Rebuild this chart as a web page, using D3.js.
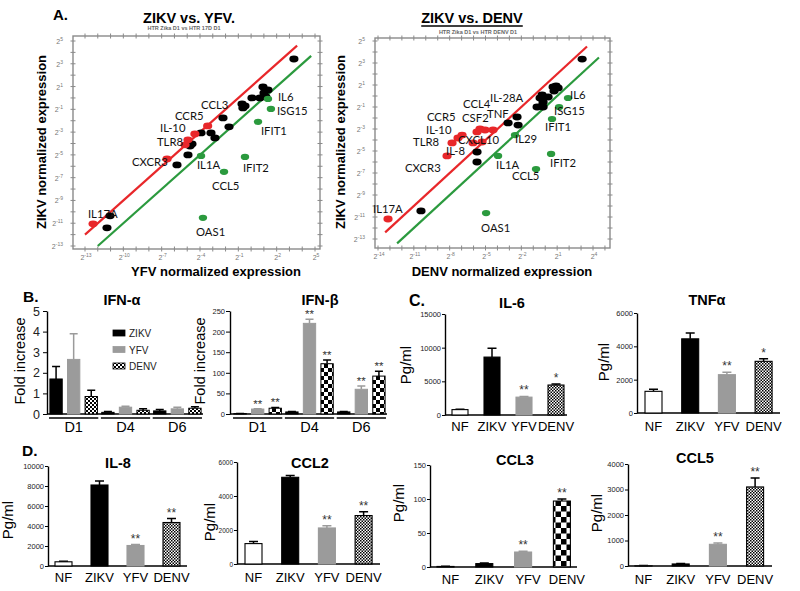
<!DOCTYPE html>
<html><head><meta charset="utf-8">
<script src="https://cdn.jsdelivr.net/npm/d3@7"></script>
<style>body{margin:0;background:#fff}svg{display:block}</style>
</head><body>
<svg id="c" width="800" height="591"></svg>
<script>
// ================= DATA =================
// Panel A: log2 normalized expression, [x = other virus, y = ZIKV]
const yfvBlack = [[3.35,3.42],[0.93,0.96],[1.32,0.70],[1.01,0.44],[0.69,0.0],[1.16,0.09],[0.07,0.0],[-0.71,-0.53],[-0.64,-0.88],[-0.48,-0.70],[-2.2,-1.75],[-1.73,-2.54],[-3.14,-3.07],[-2.83,-3.51],[-3.92,-3.07],[-4.63,-4.04],[-4.78,-4.22],[-4.94,-5.0],[-5.8,-5.88],[-11.04,-10.35],[-11.28,-11.4]];
const yfvRed = [[-3.4,-2.46],[-4.4,-3.16],[-4.94,-3.68],[-5.17,-4.12],[-6.58,-5.35],[-12.37,-11.05]];
const yfvGreen = [[1.32,-0.09],[1.55,-0.96],[0.54,-2.1],[-0.48,-5.18],[-2.12,-6.49],[-3.77,-10.53],[-3.92,-5.09]];
const yfvLabels = [["IL6",2.10,-0.25],["ISG15",2.02,-1.5],["IFIT1",0.77,-3.25],["CCL3",-3.92,-0.96],["CCR5",-5.96,-1.95],["IL-10",-7.13,-2.95],["TLR8",-7.37,-4.21],["CXCR3",-9.32,-5.96],["IL1A",-4.24,-6.23],["IFIT2",-0.64,-6.49],["CCL5",-3.06,-8.07],["OAS1",-4.31,-12.1],["IL17A",-12.77,-10.53]];

const denvBlack = [[3.09,3.36],[0.91,0.91],[0.66,0.82],[1.08,0.73],[0.74,0.45],[0.24,-0.09],[-0.26,0.09],[-0.43,-0.18],[-0.18,-0.55],[-0.26,-0.91],[-0.68,-1.0],[-0.18,-1.0],[-2.36,-1.91],[-3.11,-2.45],[-2.27,-2.64],[-5.71,-5.09],[-5.71,-6.0],[-10.4,-10.45]];
const denvRed = [[-5.46,-3.0],[-5.04,-3.09],[-4.37,-3.09],[-5.71,-3.27],[-6.96,-3.55],[-7.3,-3.82],[-6.04,-4.27],[-7.8,-4.27],[-5.29,-4.18],[-8.22,-5.45],[-13.16,-11.18]];
const denvGreen = [[1.91,-0.18],[1.16,-1.0],[0.57,-2.09],[-2.53,-3.55],[-3.95,-5.45],[0.49,-5.27],[-0.77,-6.64],[-4.95,-10.64]];
const denvLabels = [["IL6",2.08,-0.27],["ISG15",0.74,-1.73],["IFIT1",-0.01,-3.18],["IL-28A",-4.62,-0.55],["CCL4",-6.88,-1.09],["CSF2",-6.96,-2.36],["TNF",-4.87,-2.0],["CCR5",-9.9,-2.25],["IL-10",-9.98,-3.45],["TLR8",-11.07,-4.5],["CXCL10",-7.3,-4.36],["IL29",-2.53,-4.27],["IL-8",-8.3,-5.36],["CXCR3",-11.74,-6.91],["IL1A",-4.12,-6.64],["IFIT2",0.41,-6.45],["CCL5",-2.78,-7.64],["IL17A",-14.42,-10.64],["OAS1",-5.37,-12.36]];

// 2-fold lines: y = x + offset, drawn from x start to x end
const yfvFoldUp = [-13, 3.6], yfvFoldDown = [-12, 4.7];
const denvFoldUp = [-13.4, 3.5], denvFoldDown = [-12.4, 4.5];
const foldOffsets = [1, -1];

// Panel B: interferon fold increase [group][series]
const ifnGroups = ["D1","D4","D6"];
const ifnSeries = ["ZIKV","YFV","DENV"];
const ifnAlpha = [[1.7,2.65,0.85],[0.08,0.33,0.18],[0.15,0.25,0.28]];
const ifnAlphaErr = [[2.3,3.9,1.15],[0.12,0.38,0.25],[0.22,0.33,0.35]];
const ifnAlphaSig = [["","",""],["","",""],["","",""]];
const ifnBeta = [[1,12,14],[5,220,122],[5,60,92]];
const ifnBetaErr = [[1.5,13,16],[6,230,131],[6,68,104]];
const ifnBetaSig = [["","**","**"],["","**","**"],["","**","**"]];
const ifnAlphaTicks = [0,1,2,3,4,5];
const ifnBetaTicks = [0,50,100,150,200,250];

// Panels C & D: cytokines (pg/ml)
const cytoCats = ["NF","ZIKV","YFV","DENV"];
const il6 = [800,8600,2650,4450], il6Err = [850,9900,2750,4600], il6Sig = ["","","**","*"];
const tnfa = [1300,4450,2300,3100], tnfaErr = [1420,4800,2450,3250], tnfaSig = ["","","**","*"];
const il8 = [420,8100,2050,4350], il8Err = [480,8500,2150,4750], il8Sig = ["","","**","**"];
const ccl2 = [1200,5100,2120,2850], ccl2Err = [1330,5200,2250,3080], ccl2Sig = ["","","**","**"];
const ccl3 = [0.8,5,22,97], ccl3Err = [1.2,6,23,100], ccl3Sig = ["","","**","**"];
const ccl5 = [10,80,850,3100], ccl5Err = [15,95,900,3450], ccl5Sig = ["","","**","**"];
const il6Ticks = [0,5000,10000,15000];
const tnfaTicks = [0,2000,4000,6000];
const il8Ticks = [0,2000,4000,6000,8000,10000];
const ccl2Ticks = [0,2000,4000,6000];
const ccl3Ticks = [0,50,100,150];
const ccl5Ticks = [0,1000,2000,3000,4000];

// ================= DRAW =================
const AR = "Arial, 'Liberation Sans', sans-serif";
const svg = d3.select("#c");
const defs = svg.append("defs");
function checker(id, s){
  const p = defs.append("pattern").attr("id",id).attr("patternUnits","userSpaceOnUse").attr("width",2*s).attr("height",2*s);
  p.append("rect").attr("width",2*s).attr("height",2*s).attr("fill","#fff");
  p.append("rect").attr("width",s).attr("height",s).attr("fill","#000");
  p.append("rect").attr("x",s).attr("y",s).attr("width",s).attr("height",s).attr("fill","#000");
}
checker("ckFine",1.5); checker("ckSmall",2); checker("ckBig",4); checker("ckHuge",5.5);

function text(g, x, y, s, o){
  o = o||{};
  return g.append("text").attr("x",x).attr("y",y).text(s)
    .attr("font-family",o.ff||AR).attr("font-size",o.fs||14)
    .attr("font-weight",o.fw||"normal").attr("fill",o.fill||"#000")
    .attr("text-anchor",o.anchor||"start");
}

// ---------- Panel A scatter ----------
function scatter(o){
  const g = svg.append("g");
  const x = d3.scaleLinear().domain([o.xd[0],o.xd[1]]).range([o.xp[0],o.xp[1]]);
  const y = d3.scaleLinear().domain([-13,5]).range([o.yp[0],o.yp[1]]);
  const fx = o.frameX, fy = o.frameY;
  g.append("rect").attr("x",fx[0]).attr("y",fy[0]).attr("width",fx[1]-fx[0]).attr("height",fy[1]-fy[0])
    .attr("fill","none").attr("stroke","#8a8a8a").attr("stroke-width",1.4);
  const xt = d3.range(Math.ceil(x.invert(fx[0])), Math.floor(x.invert(fx[1]))+1);
  const yt = d3.range(Math.ceil(y.invert(fy[1])), Math.floor(y.invert(fy[0]))+1);
  [fy[0],fy[1]].forEach(yy=>{
    g.selectAll(null).data(xt).join("line").attr("x1",d=>x(d)).attr("x2",d=>x(d))
      .attr("y1",yy-2.5).attr("y2",yy+2.5).attr("stroke","#8a8a8a").attr("stroke-width",1);
  });
  [fx[0],fx[1]].forEach(xx=>{
    g.selectAll(null).data(yt).join("line").attr("y1",d=>y(d)).attr("y2",d=>y(d))
      .attr("x1",xx-2.5).attr("x2",xx+2.5).attr("stroke","#8a8a8a").attr("stroke-width",1);
  });
  const lab = (t, px, py, anchor) => {
    const tt = g.append("text").attr("x",px).attr("y",py).attr("font-family",AR).attr("font-size",7)
      .attr("fill","#777").attr("text-anchor",anchor);
    tt.append("tspan").text("2");
    tt.append("tspan").attr("dy",-3).attr("font-size",5).text(t);
  };
  o.xLabels.forEach(t=>lab(t, x(t)+1, fy[1]+11, "middle"));
  o.yLabels.forEach(t=>lab(t, fx[0]-10, y(t)+3, "end"));
  const line = d3.line().x(d=>x(d[0])).y(d=>y(d[1]));
  [[o.up,foldOffsets[0],"#e8272a"],[o.down,foldOffsets[1],"#2b9a3e"]].forEach(([r,off,c])=>{
    g.append("path").attr("d",line([[r[0],r[0]+off],[r[1],r[1]+off]]))
      .attr("stroke",c).attr("stroke-width",2.2).attr("fill","none");
  });
  const pts = (arr,c,rx,ry)=> g.selectAll(null).data(arr).join("ellipse")
    .attr("cx",d=>x(d[0])).attr("cy",d=>y(d[1])).attr("rx",rx).attr("ry",ry).attr("fill",c);
  pts(o.black,"#000",4.6,3.4);
  pts(o.red,"#e8272a",4.6,3.4);
  pts(o.green,"#2b9a3e",4.2,3.1);
  g.selectAll(null).data(o.labels).join("text")
    .attr("x",d=>x(d[1])).attr("y",d=>y(d[2])).text(d=>d[0])
    .attr("font-family","Lato, 'Open Sans', sans-serif").attr("font-size",11.3).attr("fill","#111");
  const t = text(g, o.titleX, 23, o.title, {fs:14.5, fw:"bold", anchor:"middle"});
  if (o.underline){
    const w = t.node().getComputedTextLength();
    g.append("line").attr("x1",o.titleX-w/2).attr("x2",o.titleX+w/2).attr("y1",26).attr("y2",26)
      .attr("stroke","#000").attr("stroke-width",1.3);
  }
  text(g, o.subX, o.subY, o.sub, {fs:5.5, fill:"#666", anchor:"middle", fw:"bold"});
  text(g, o.xlabX, 276, o.xlab, {fs:13, fw:"bold", anchor:"middle"});
  text(g, 0, 0, "ZIKV normalized  expression", {fs:13, fw:"bold", anchor:"middle"})
    .attr("transform",`translate(${o.ylabX},142) rotate(-90)`);
}

scatter({xd:[-13,5], xp:[85,315], yp:[246,41], frameX:[73,320], frameY:[36,249],
  xLabels:[-13,-10,-7,-4,-1,2,5], yLabels:[-13,-11,-9,-7,-5,-3,-1,1,3,5],
  up:yfvFoldUp, down:yfvFoldDown, black:yfvBlack, red:yfvRed, green:yfvGreen, labels:yfvLabels,
  title:"ZIKV vs. YFV.", titleX:189, sub:"HTR Zika D1 vs HTR 17D D1", subX:184, subY:30,
  xlab:"YFV normalized expression", xlabX:216, ylabX:46});
scatter({xd:[-14,4], xp:[378,593], yp:[239,41], frameX:[375,610], frameY:[38,248],
  xLabels:[-14,-11,-8,-5,-2,1,4], yLabels:[-13,-11,-9,-7,-5,-3,-1,1,3,5],
  up:denvFoldUp, down:denvFoldDown, black:denvBlack, red:denvRed, green:denvGreen, labels:denvLabels,
  title:"ZIKV vs. DENV", titleX:472, underline:true, sub:"HTR Zika D1 vs HTR DENV D1", subX:478, subY:34,
  xlab:"DENV normalized expression", xlabX:502, ylabX:345});
text(svg, 53, 20, "A.", {fs:15, fw:"bold"});

// ---------- Panel B: interferons ----------
const seriesFill = {ZIKV:"#000", YFV:"#9b9b9b", NF:"#fff"};
const fmt = d3.format("d");
function ifnPanel(o){
  const g = svg.append("g");
  const x0 = d3.scaleBand().domain(ifnGroups).range([o.x0, o.x1]).paddingInner(0.05).paddingOuter(0.02);
  const x1 = d3.scaleBand().domain(ifnSeries).range([0, x0.bandwidth()]).paddingInner(0.3).paddingOuter(0.05);
  const y = d3.scaleLinear().domain([0, o.max]).range([414, 311]);
  const ax = g.append("g").attr("transform",`translate(${o.ax},0)`)
    .call(d3.axisLeft(y).tickValues(o.ticks).tickFormat(fmt).tickSize(4).tickSizeOuter(0).tickPadding(o.tp));
  ax.select(".domain").attr("stroke-width",1.4);
  ax.selectAll("text").attr("font-family",AR).attr("font-size",o.tfs).attr("fill","#222");
  g.append("line").attr("x1",o.ax).attr("x2",o.x1).attr("y1",y(0)).attr("y2",y(0)).attr("stroke","#000").attr("stroke-width",1.4);
  const rows = [];
  ifnGroups.forEach((gr,i)=>ifnSeries.forEach((s,j)=>rows.push({gr,s,v:o.vals[i][j],e:o.err[i][j],sig:o.sig[i][j]})));
  const bx = d=>x0(d.gr)+x1(d.s), bw = x1.bandwidth();
  g.selectAll(null).data(rows).join("path")
    .attr("d",d=>`M${bx(d)+bw/2},${y(d.v)}V${y(d.e)}M${bx(d)+bw/2-4},${y(d.e)}H${bx(d)+bw/2+4}`)
    .attr("stroke",d=>d.s==="YFV"?"#9b9b9b":"#000").attr("stroke-width",1.5).attr("fill","none");
  g.selectAll(null).data(rows).join("rect")
    .attr("x",bx).attr("width",bw).attr("y",d=>y(d.v)).attr("height",d=>y(0)-y(d.v))
    .attr("fill",d=>d.s==="DENV"?`url(#${o.pat})`:seriesFill[d.s])
    .attr("stroke",d=>d.s==="YFV"?"#9b9b9b":"#000").attr("stroke-width",1);
  g.selectAll(null).data(rows.filter(d=>d.sig)).join("text")
    .attr("x",d=>bx(d)+bw/2).attr("y",d=>y(d.e)-1).text(d=>d.sig).attr("text-anchor","middle")
    .attr("font-family",AR).attr("font-size",11.5).attr("fill","#333");
  g.selectAll(null).data(ifnGroups).join("line")
    .attr("x1",d=>x0(d)).attr("x2",d=>x0(d)+x0.bandwidth()).attr("y1",418).attr("y2",418)
    .attr("stroke","#000").attr("stroke-width",1.4);
  g.selectAll(null).data(ifnGroups).join("text")
    .attr("x",d=>x0(d)+x0.bandwidth()/2).attr("y",432).text(d=>d).attr("text-anchor","middle")
    .attr("font-family",AR).attr("font-size",14.5);
  text(g, o.titleX, 305, o.title, {fs:14.5, fw:"bold", anchor:"middle"});
  text(g, 0, 0, "Fold increase", {fs:14.5, anchor:"middle"}).attr("transform",`translate(${o.ylabX},361) rotate(-90)`);
}
ifnPanel({x0:48, x1:203, ax:47, max:5, ticks:ifnAlphaTicks, tfs:12.5, tp:3, vals:ifnAlpha, err:ifnAlphaErr, sig:ifnAlphaSig,
  pat:"ckSmall", title:"IFN-α", titleX:122, ylabX:25});
ifnPanel({x0:232, x1:387, ax:230, max:250, ticks:ifnBetaTicks, tfs:7.5, tp:1, vals:ifnBeta, err:ifnBetaErr, sig:ifnBetaSig,
  pat:"ckBig", title:"IFN-β", titleX:320, ylabX:205});
text(svg, 23, 302, "B.", {fs:15.5, fw:"bold"});
const leg = svg.append("g");
ifnSeries.forEach((s,i)=>{
  leg.append("rect").attr("x",113).attr("y",330+i*16.5).attr("width",12).attr("height",6)
    .attr("fill",s==="DENV"?"url(#ckSmall)":seriesFill[s]).attr("stroke",s==="YFV"?"#9b9b9b":"#000").attr("stroke-width",0.8);
  text(leg, 129, 337+i*16.5, s, {fs:10, fill:"#222"});
});

// ---------- Panels C & D: cytokines ----------
function cytoPanel(o){
  const g = svg.append("g");
  const n = cytoCats.length, pi = 1 - o.bw/o.step, po = (o.first - o.ax)/o.step;
  const x = d3.scaleBand().domain(cytoCats).range([o.ax, o.ax + o.step*(n - pi + 2*po)]).paddingInner(pi).paddingOuter(po);
  const y = d3.scaleLinear().domain([0, o.ticks[o.ticks.length-1]]).range([o.yb, o.yt]);
  const ax = g.append("g").attr("transform",`translate(${o.ax},0)`)
    .call(d3.axisLeft(y).tickValues(o.ticks).tickFormat(fmt).tickSize(3).tickSizeOuter(0).tickPadding(1));
  ax.select(".domain").attr("stroke-width",1.4);
  ax.selectAll("text").attr("font-family",AR).attr("font-size",o.tfs||7.5).attr("fill","#222");
  g.append("line").attr("x1",o.ax).attr("x2",o.xEnd).attr("y1",y(0)).attr("y2",y(0)).attr("stroke","#000").attr("stroke-width",1.4);
  const rows = cytoCats.map((c,i)=>({c, v:o.vals[i], e:o.err[i], sig:o.sig[i]}));
  const cx = d=>x(d.c)+x.bandwidth()/2;
  g.selectAll(null).data(rows).join("path")
    .attr("d",d=>`M${cx(d)},${y(d.v)}V${y(d.e)}M${cx(d)-4.5},${y(d.e)}H${cx(d)+4.5}`)
    .attr("stroke",d=>d.c==="YFV"?"#9b9b9b":"#000").attr("stroke-width",1.5).attr("fill","none");
  g.selectAll(null).data(rows).join("rect")
    .attr("x",d=>x(d.c)).attr("width",x.bandwidth()).attr("y",d=>y(d.v)).attr("height",d=>y(0)-y(d.v))
    .attr("fill",d=>d.c==="DENV"?`url(#${o.pat})`:seriesFill[d.c])
    .attr("stroke",d=>d.c==="YFV"?"#9b9b9b":"#000").attr("stroke-width",1.1);
  g.selectAll(null).data(rows.filter(d=>d.sig)).join("text")
    .attr("x",cx).attr("y",d=>y(d.e)-2).text(d=>d.sig).attr("text-anchor","middle")
    .attr("font-family",AR).attr("font-size",12).attr("fill","#333");
  g.selectAll(null).data(cytoCats).join("text")
    .attr("x",d=>x(d)+x.bandwidth()/2+(o.ldx||0)).attr("y",o.lb).text(d=>d).attr("text-anchor","middle")
    .attr("font-family",AR).attr("font-size",13);
  text(g, o.titleX, o.titleY, o.title, {fs:14.5, fw:"bold", anchor:"middle"});
  text(g, 0, 0, "Pg/ml", {fs:15, anchor:"middle"}).attr("transform",`translate(${o.ylab[0]},${o.ylab[1]}) rotate(-90)`);
}
cytoPanel({ax:445, first:452, step:32, bw:16, xEnd:567, yb:415, yt:314, ticks:il6Ticks, vals:il6, err:il6Err, sig:il6Sig,
  pat:"ckFine", lb:431, title:"IL-6", titleX:512, titleY:308, ylab:[411,365]});
cytoPanel({ax:637, first:645, step:36.7, bw:17, xEnd:780, yb:413, yt:313, ticks:tnfaTicks, vals:tnfa, err:tnfaErr, sig:tnfaSig,
  pat:"ckFine", lb:431, title:"TNFα", titleX:707, titleY:305, ylab:[609,362]});
cytoPanel({ax:48, first:55, step:36, bw:17, xEnd:187, yb:566, yt:466, ticks:il8Ticks, vals:il8, err:il8Err, sig:il8Sig,
  pat:"ckFine", lb:582, title:"IL-8", titleX:118, titleY:468, ylab:[13,520]});
cytoPanel({ax:237, first:245, step:36.7, bw:17, xEnd:380, yb:564, yt:462, ticks:ccl2Ticks, vals:ccl2, err:ccl2Err, sig:ccl2Sig, tfs:6.5,
  pat:"ckFine", lb:582, title:"CCL2", titleX:310, titleY:468, ylab:[215,522]});
cytoPanel({ax:430, first:437, step:38.8, bw:17, xEnd:577, yb:567, yt:465, ticks:ccl3Ticks, vals:ccl3, err:ccl3Err, sig:ccl3Sig,
  pat:"ckHuge", lb:584, ldx:5, title:"CCL3", titleX:515, titleY:465, ylab:[404,503]});
cytoPanel({ax:628, first:635, step:37.2, bw:17, xEnd:772, yb:566, yt:464, ticks:ccl5Ticks, vals:ccl5, err:ccl5Err, sig:ccl5Sig,
  pat:"ckFine", lb:584, title:"CCL5", titleX:695, titleY:463, ylab:[602,513]});
text(svg, 409, 306, "C.", {fs:16, fw:"bold"});
text(svg, 22, 456, "D.", {fs:15.5, fw:"bold"});
</script>
</body></html>
